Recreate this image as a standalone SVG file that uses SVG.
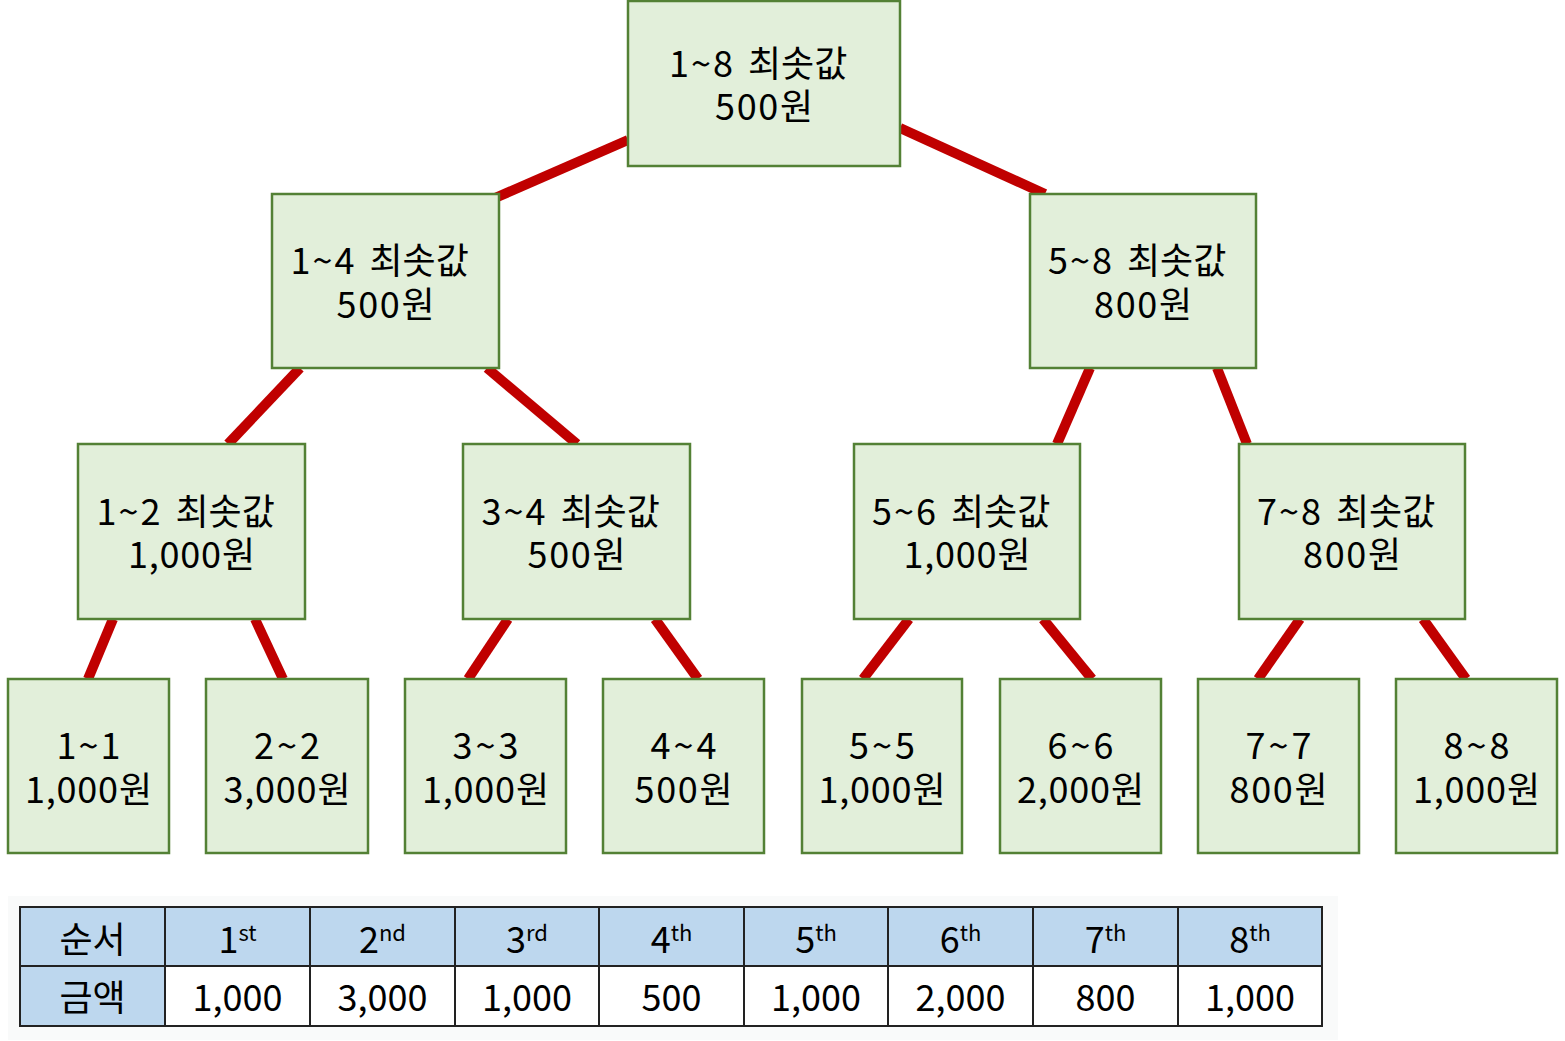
<svg xmlns="http://www.w3.org/2000/svg" width="1565" height="1041" viewBox="0 0 1565 1041">
<style>
.box{fill:#E2EFDA;stroke:#538135;stroke-width:2.5}
.t{font-family:"Malgun Gothic","Noto Sans CJK KR","Noto Sans",sans-serif;font-size:36px;fill:#000;text-anchor:middle}
.s{text-anchor:start}
.e{stroke:#C00000;stroke-width:10;fill:none}
.hd{fill:#BDD7EE}
.cell{fill:#FFFFFF}
.grid{stroke:#222;stroke-width:2;fill:none}
.sup{font-size:22px}
</style>
<rect width="1565" height="1041" fill="#FFFFFF"/>
<g id="connectors">
<line class="e" x1="628" y1="140" x2="495" y2="198"/>
<line class="e" x1="900" y1="128" x2="1045" y2="194"/>
<line class="e" x1="300" y1="368" x2="228" y2="444"/>
<line class="e" x1="487" y1="368" x2="577" y2="444"/>
<line class="e" x1="1090" y1="368" x2="1057" y2="444"/>
<line class="e" x1="1217" y1="368" x2="1247" y2="444"/>
<line class="e" x1="113" y1="619" x2="88" y2="679"/>
<line class="e" x1="255" y1="619" x2="283" y2="679"/>
<line class="e" x1="508" y1="619" x2="468" y2="679"/>
<line class="e" x1="655" y1="619" x2="698" y2="679"/>
<line class="e" x1="909" y1="619" x2="863" y2="679"/>
<line class="e" x1="1043" y1="619" x2="1092" y2="679"/>
<line class="e" x1="1300" y1="619" x2="1258" y2="679"/>
<line class="e" x1="1423" y1="619" x2="1466" y2="679"/>
</g>
<g id="n18"><rect class="box" x="628" y="1" width="272" height="165"/><text class="t s" y="77"><tspan x="669" textLength="64">1~8</tspan><tspan x="748">최솟값</tspan></text><text class="t" x="764" y="120" textLength="98">500원</text></g>
<g id="n14"><rect class="box" x="272" y="194" width="227" height="174"/><text class="t s" y="274"><tspan x="290.5" textLength="64">1~4</tspan><tspan x="369.5">최솟값</tspan></text><text class="t" x="385.5" y="318" textLength="98">500원</text></g>
<g id="n58"><rect class="box" x="1030" y="194" width="226" height="174"/><text class="t s" y="274"><tspan x="1048" textLength="64">5~8</tspan><tspan x="1127">최솟값</tspan></text><text class="t" x="1143" y="318" textLength="98">800원</text></g>
<g id="n12"><rect class="box" x="78" y="444" width="227" height="175"/><text class="t s" y="525"><tspan x="96.5" textLength="64">1~2</tspan><tspan x="175.5">최솟값</tspan></text><text class="t" x="191.5" y="568" textLength="127">1,000원</text></g>
<g id="n34"><rect class="box" x="463" y="444" width="227" height="175"/><text class="t s" y="525"><tspan x="481.5" textLength="64">3~4</tspan><tspan x="560.5">최솟값</tspan></text><text class="t" x="576.5" y="568" textLength="98">500원</text></g>
<g id="n56"><rect class="box" x="854" y="444" width="226" height="175"/><text class="t s" y="525"><tspan x="872" textLength="64">5~6</tspan><tspan x="951">최솟값</tspan></text><text class="t" x="967" y="568" textLength="127">1,000원</text></g>
<g id="n78"><rect class="box" x="1239" y="444" width="226" height="175"/><text class="t s" y="525"><tspan x="1257" textLength="64">7~8</tspan><tspan x="1336">최솟값</tspan></text><text class="t" x="1352" y="568" textLength="98">800원</text></g>
<g id="l1"><rect class="box" x="8" y="679" width="161" height="174"/><text class="t" x="88.5" y="759" textLength="64">1~1</text><text class="t" x="88.5" y="803" textLength="127">1,000원</text></g>
<g id="l2"><rect class="box" x="206" y="679" width="162" height="174"/><text class="t" x="287" y="759" textLength="66">2~2</text><text class="t" x="287" y="803" textLength="127">3,000원</text></g>
<g id="l3"><rect class="box" x="405" y="679" width="161" height="174"/><text class="t" x="485.5" y="759" textLength="66">3~3</text><text class="t" x="485.5" y="803" textLength="127">1,000원</text></g>
<g id="l4"><rect class="box" x="603" y="679" width="161" height="174"/><text class="t" x="683.5" y="759" textLength="66">4~4</text><text class="t" x="683.5" y="803" textLength="98">500원</text></g>
<g id="l5"><rect class="box" x="802" y="679" width="160" height="174"/><text class="t" x="882" y="759" textLength="66">5~5</text><text class="t" x="882" y="803" textLength="127">1,000원</text></g>
<g id="l6"><rect class="box" x="1000" y="679" width="161" height="174"/><text class="t" x="1080.5" y="759" textLength="66">6~6</text><text class="t" x="1080.5" y="803" textLength="127">2,000원</text></g>
<g id="l7"><rect class="box" x="1198" y="679" width="161" height="174"/><text class="t" x="1278.5" y="759" textLength="66">7~7</text><text class="t" x="1278.5" y="803" textLength="98">800원</text></g>
<g id="l8"><rect class="box" x="1396" y="679" width="161" height="174"/><text class="t" x="1476.5" y="759" textLength="66">8~8</text><text class="t" x="1476.5" y="803" textLength="127">1,000원</text></g>
<g id="table">
<rect x="8" y="896" width="1330" height="144" fill="#F9FAFA"/>
<rect class="hd" x="20" y="907" width="1302" height="59"/>
<rect class="hd" x="20" y="966" width="145" height="60"/>
<rect class="cell" x="165" y="966" width="1157" height="60"/>
<rect class="grid" x="20" y="907" width="1302" height="119"/>
<path class="grid" d="M20 966H1322M165 907V1026M310 907V1026M455 907V1026M599 907V1026M744 907V1026M888 907V1026M1033 907V1026M1178 907V1026"/>
<text class="t" x="92.5" y="953">순서</text>
<text class="t" x="92.5" y="1011">금액</text>
<text class="t" x="237.5" y="953">1<tspan class="sup" dy="-12">st</tspan></text>
<text class="t" x="382.5" y="953">2<tspan class="sup" dy="-12">nd</tspan></text>
<text class="t" x="527" y="953">3<tspan class="sup" dy="-12">rd</tspan></text>
<text class="t" x="671.5" y="953">4<tspan class="sup" dy="-12">th</tspan></text>
<text class="t" x="816" y="953">5<tspan class="sup" dy="-12">th</tspan></text>
<text class="t" x="960.5" y="953">6<tspan class="sup" dy="-12">th</tspan></text>
<text class="t" x="1105.5" y="953">7<tspan class="sup" dy="-12">th</tspan></text>
<text class="t" x="1250" y="953">8<tspan class="sup" dy="-12">th</tspan></text>
<text class="t" x="237.5" y="1011">1,000</text>
<text class="t" x="382.5" y="1011">3,000</text>
<text class="t" x="527" y="1011">1,000</text>
<text class="t" x="671.5" y="1011">500</text>
<text class="t" x="816" y="1011">1,000</text>
<text class="t" x="960.5" y="1011">2,000</text>
<text class="t" x="1105.5" y="1011">800</text>
<text class="t" x="1250" y="1011">1,000</text>
</g>
</svg>
